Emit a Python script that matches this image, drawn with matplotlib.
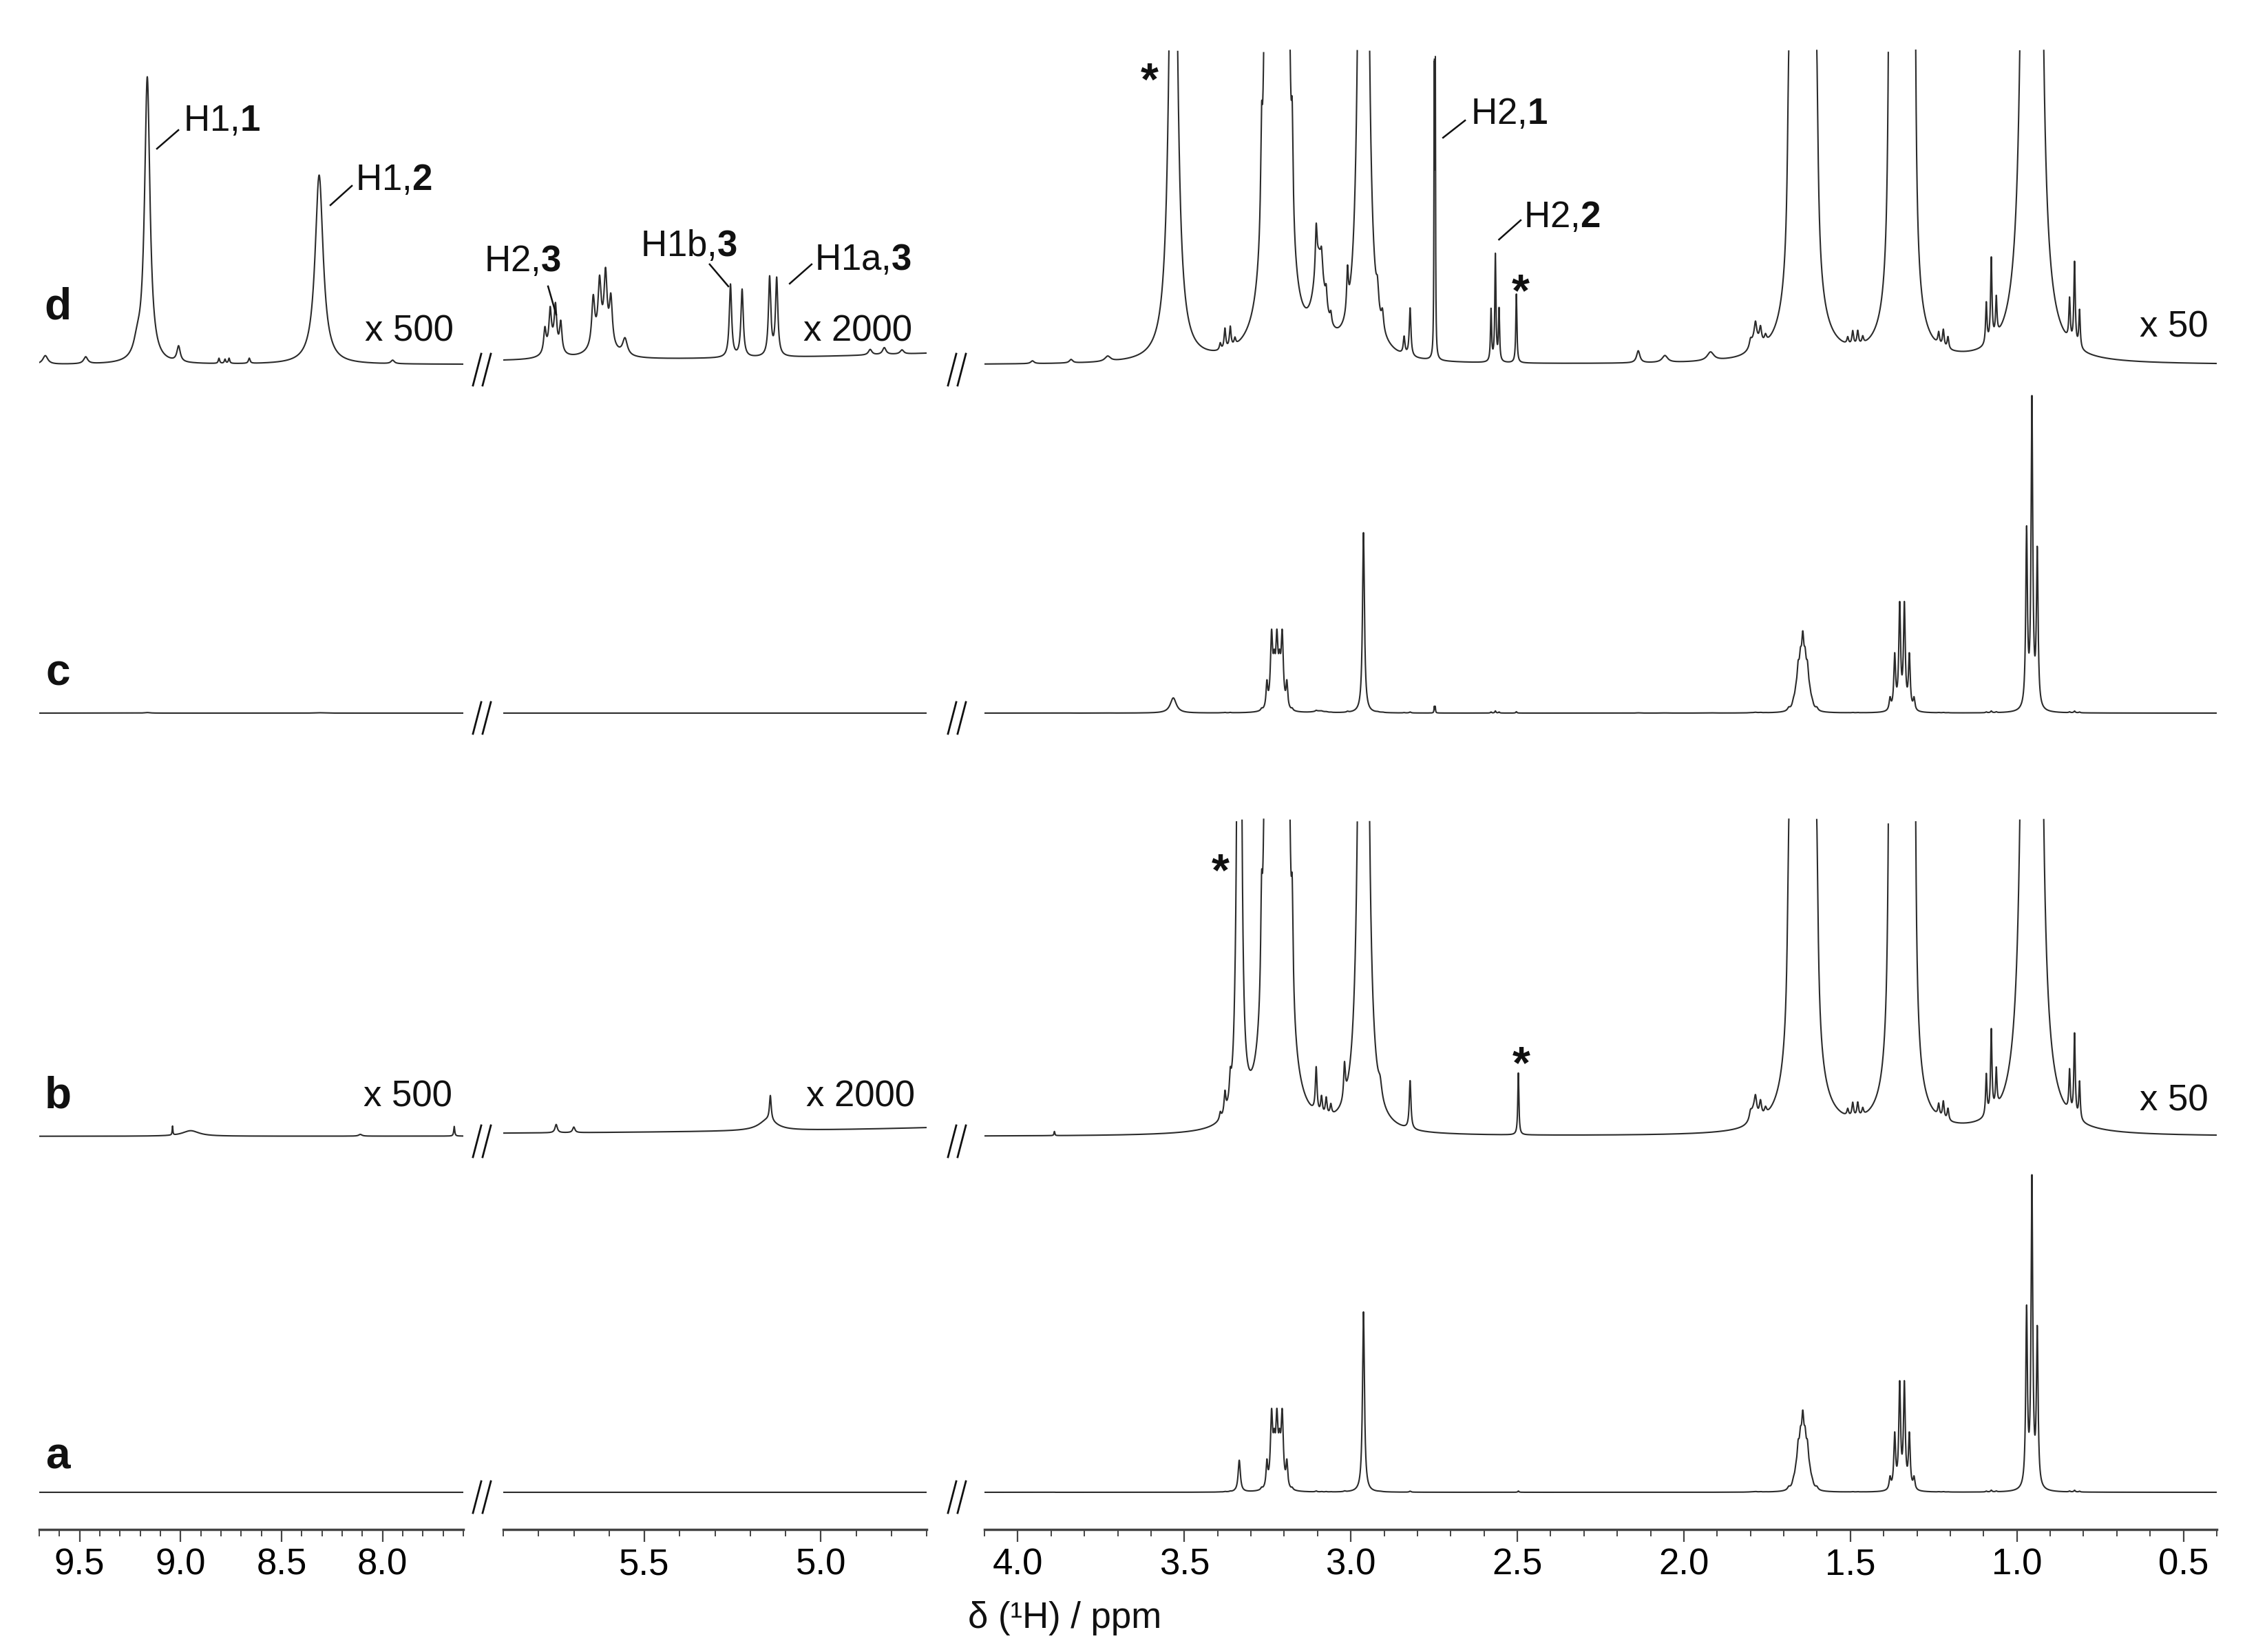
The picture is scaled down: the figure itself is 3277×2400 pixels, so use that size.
import numpy as np
import matplotlib
import matplotlib.pyplot as plt
from matplotlib.lines import Line2D
from matplotlib.ticker import MultipleLocator, FormatStrFormatter

matplotlib.use("Agg")

plt.rcParams["font.family"] = ["Liberation Sans", "DejaVu Sans"]
plt.rcParams["mathtext.fontset"] = "custom"
plt.rcParams["mathtext.rm"] = "Liberation Sans"
plt.rcParams["mathtext.bf"] = "Liberation Sans:bold"

# ppm windows of the three panels, magnification used for b and d
seg_lims = [(9.7, 7.6), (5.9, 4.7), (4.1, 0.4)]
seg_mag = [500, 2000, 50]
seg_mag_text = ["x 500", "x 2000", "x 50"]

# signals present in all spectra (position / ppm, height at x1, half width / ppm)
main_ppm = [3.268, 3.252, 3.238, 3.230, 3.222, 3.214, 3.206, 3.192, 3.176,
            2.962,
            1.685, 1.671, 1.664, 1.657, 1.650, 1.643, 1.636, 1.629, 1.622, 1.615, 1.601,
            1.381, 1.367, 1.352, 1.338, 1.323, 1.309,
            0.971, 0.955, 0.939,
            3.392, 3.378, 3.362, 3.348,
            3.104, 3.088, 3.074, 3.060,
            2.822,
            1.800, 1.785, 1.770, 1.755,
            1.508, 1.493, 1.478, 1.463,
            1.235, 1.221, 1.207,
            1.092, 1.077, 1.062,
            0.842, 0.827, 0.812]
main_h = [2.5, 36, 102, 48, 90, 48, 102, 36, 2.5,
          262,
          4, 8, 15, 45, 50, 80, 50, 45, 15, 8, 4,
          17, 78, 150, 150, 78, 17,
          255, 445, 225,
          0.2, 0.6, 0.6, 0.2,
          1.3, 0.5, 0.5, 0.3,
          1.4,
          0.2, 0.45, 0.45, 0.2,
          0.2, 0.4, 0.4, 0.2,
          0.35, 0.5, 0.35,
          1.2, 2.4, 1.1,
          1.2, 2.4, 1.1]
main_w = [0.003, 0.003, 0.004, 0.004, 0.004, 0.004, 0.004, 0.003, 0.003] \
    + [0.0035] + [0.0045] * 11 + [0.0032] * 6 + [0.003] * 3 \
    + [0.003] * 4 + [0.003] * 4 + [0.003] + [0.004] * 4 + [0.003] * 4 \
    + [0.003] * 3 + [0.0025] * 6

# extra signals of the sample in a and b
a_ppm = [3.335, 2.497, 3.890, 3.019, 2.912, 1.790,
         9.040, 8.950, 8.110, 7.645,
         5.143, 5.150, 5.750, 5.700]
a_h = [46, 1.8, 0.12, 1.0, 0.4, 0.4,
       0.026, 0.016, 0.005, 0.028,
       0.018, 0.008, 0.006, 0.004]
a_w = [0.004, 0.002, 0.0015, 0.003, 0.006, 0.012,
       0.002, 0.05, 0.01, 0.003,
       0.003, 0.03, 0.004, 0.004]

# extra signals of the sample in c and d
d_ppm = [3.533, 2.7495, 2.7465, 2.579, 2.566, 2.555, 2.503,
         3.956, 3.840, 3.730, 3.095, 3.010, 2.920, 2.905, 2.840,
         2.137, 2.057, 1.920, 1.787,
         9.165, 8.314, 9.215, 9.010, 9.670, 9.470, 8.810, 8.780, 8.760,
         8.660, 7.950,
         5.782, 5.767, 5.752, 5.737, 5.760,
         5.645, 5.627, 5.610, 5.595, 5.620, 5.555,
         5.256, 5.223, 5.145, 5.125,
         4.860, 4.820, 4.770]
d_h = [22, 9.0, 9.0, 1.5, 3.1, 1.5, 2.0,
       0.08, 0.1, 0.15, 2.5, 1.2, 0.6, 0.5, 0.5,
       0.35, 0.2, 0.25, 0.4,
       0.83, 0.55, 0.04, 0.045, 0.025, 0.02, 0.015, 0.012, 0.015,
       0.015, 0.01,
       0.017, 0.026, 0.029, 0.021, 0.01,
       0.034, 0.04, 0.046, 0.033, 0.015, 0.012,
       0.053, 0.049, 0.057, 0.056,
       0.004, 0.005, 0.003]
d_w = [0.011, 0.001, 0.001, 0.002, 0.002, 0.002, 0.002,
       0.006, 0.006, 0.01, 0.02, 0.003, 0.004, 0.004, 0.003,
       0.006, 0.01, 0.012, 0.015,
       0.016, 0.024, 0.02, 0.01, 0.015, 0.012, 0.004, 0.004, 0.004,
       0.005, 0.01,
       0.004, 0.004, 0.004, 0.004, 0.02,
       0.005, 0.005, 0.005, 0.005, 0.03, 0.008,
       0.004, 0.004, 0.004, 0.004,
       0.006, 0.006, 0.006]

row_names = ["a", "b", "c", "d"]


def spectrum(x, ppm, h, w):
    c = np.asarray(ppm)[:, None]
    h = np.asarray(h)[:, None]
    w = np.asarray(w)[:, None]
    return (h * w**2 / (w**2 + (x[None, :] - c) ** 2)).sum(axis=0)


W, H = 3277, 2400
fig = plt.figure(figsize=(W / 100, H / 100), dpi=100)

# layout in pixels: panel edges, axis line, baselines and clip heights of rows
ax_x = [(57, 616), (731, 615), (1430, 1790)]
axis_y = 2222
base = [54, 571, 1186, 1692]
clip = [None, 1032, None, 2149]
samples = [(a_ppm, a_h, a_w), (a_ppm, a_h, a_w), (d_ppm, d_h, d_w), (d_ppm, d_h, d_w)]
magnified = [False, True, False, True]
lc = "#2b2b2b"

axes = []
for k, (x0, wd) in enumerate(ax_x):
    ax = fig.add_axes([x0 / W, (H - axis_y) / H, wd / W, axis_y / H])
    hi, lo = seg_lims[k]
    ax.set_xlim(hi, lo)
    ax.set_ylim(0, axis_y)
    for s in ["left", "right", "top"]:
        ax.spines[s].set_visible(False)
    ax.spines["bottom"].set_color("#444444")
    ax.spines["bottom"].set_linewidth(2.5)
    ax.set_yticks([])
    ax.patch.set_alpha(0)
    ax.xaxis.set_major_locator(MultipleLocator(0.5))
    ax.xaxis.set_minor_locator(MultipleLocator(0.1))
    ax.xaxis.set_major_formatter(FormatStrFormatter("%.1f"))
    ax.tick_params(axis="x", which="major", length=13, width=1.6, color="#444444",
                   labelsize=38, pad=6, direction="out")
    ax.tick_params(axis="x", which="minor", length=7, width=1.4, color="#444444",
                   direction="out")

    x = np.linspace(hi, lo, int((hi - lo) / 0.0001) + 1)
    for r in range(4):
        ppm = main_ppm + samples[r][0]
        hh = main_h + samples[r][1]
        ww = main_w + samples[r][2]
        y = spectrum(x, ppm, hh, ww)
        if magnified[r]:
            y = y * seg_mag[k]
        y = base[r] + y
        if clip[r] is not None:
            y = np.where(y > clip[r], np.nan, y)
        ax.plot(x, y, color=lc, lw=1.5, solid_joinstyle="round")
    axes.append(ax)

axl, axm, axr = axes
tk = dict(fontsize=38, color="#111111", va="baseline")

# row letters
for r, yb in enumerate([88, 612, 1227, 1758]):
    axl.text(9.608, yb, row_names[r], ha="center", fontsize=46, fontweight="bold",
             va="baseline", color="#111111")

# magnification labels for b and d
axl.text(7.869, 1726, seg_mag_text[0], ha="center", **tk)
axl.text(7.876, 615, seg_mag_text[0], ha="center", **tk)
axm.text(4.895, 1726, seg_mag_text[1], ha="center", **tk)
axm.text(4.887, 615, seg_mag_text[1], ha="center", **tk)
axr.text(0.425, 1732, seg_mag_text[2], ha="right", **tk)
axr.text(0.425, 609, seg_mag_text[2], ha="right", **tk)

# peak assignments
lk = dict(color="#111111", lw=1.8)
axl.plot([9.117, 9.011], [2006, 2033], **lk)
axl.text(8.987, 2032, r"H1,$\mathbf{1}$", ha="left", **tk)
axl.plot([8.258, 8.152], [1924, 1952], **lk)
axl.text(8.135, 1946, r"H1,$\mathbf{2}$", ha="left", **tk)
axm.plot([5.773, 5.750], [1806, 1765], **lk)
axm.text(5.845, 1828, r"H2,$\mathbf{3}$", ha="center", **tk)
axm.plot([5.315, 5.262], [1838, 1806], **lk)
axm.text(5.375, 1850, r"H1b,$\mathbf{3}$", ha="center", **tk)
axm.plot([5.088, 5.026], [1810, 1838], **lk)
axm.text(5.018, 1830, r"H1a,$\mathbf{3}$", ha="left", **tk)
axr.plot([2.723, 2.657], [2022, 2047], **lk)
axr.text(2.641, 2042, r"H2,$\mathbf{1}$", ha="left", **tk)
axr.plot([2.555, 2.490], [1874, 1902], **lk)
axr.text(2.482, 1892, r"H2,$\mathbf{2}$", ha="left", **tk)

# solvent marks
sk = dict(fontsize=48, fontweight="bold", ha="center", va="baseline", color="#111111")
axr.text(3.604, 2085, "*", **sk)
axr.text(2.490, 1778, "*", **sk)
axr.text(3.391, 936, "*", **sk)
axr.text(2.488, 656, "*", **sk)

# axis breaks drawn at every baseline
for yb in [2168, 1651, 1036, 530]:
    for xc in [700, 1390]:
        for dx in [-7, 7]:
            xs = xc + dx
            fig.add_artist(Line2D([(xs - 6) / W, (xs + 6) / W],
                                  [1 - (yb + 30) / H, 1 - (yb - 16) / H],
                                  transform=fig.transFigure, color="#111111", lw=2.0))

fig.text(1547 / W, 1 - 2351 / H, "δ (¹H) / ppm", ha="center", va="center",
         fontsize=38, color="#111111")

fig.savefig("out.png", dpi=100, facecolor="white")
